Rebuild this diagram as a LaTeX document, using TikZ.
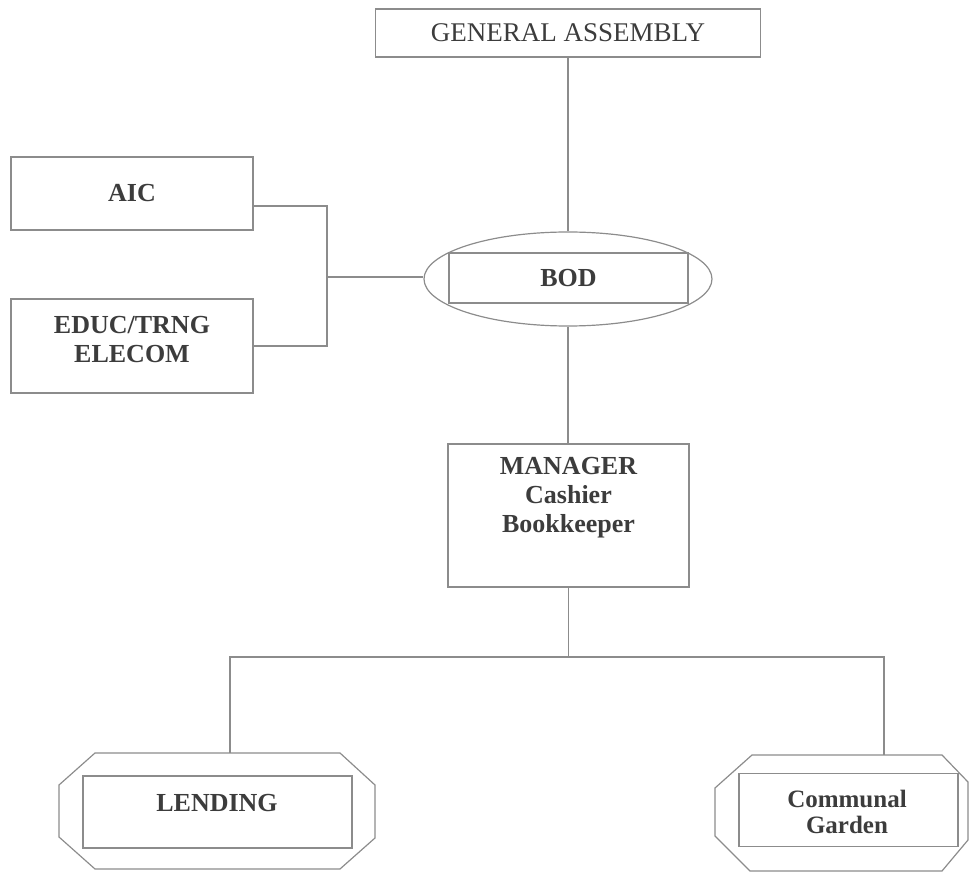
\documentclass[tikz,border=0pt]{standalone}
\usepackage{fontspec}
\setmainfont{Liberation Serif}
\usetikzlibrary{shapes.geometric}
\definecolor{ln}{HTML}{8C8C8C}
\definecolor{tx}{HTML}{3C3C3C}
\begin{document}
\begin{tikzpicture}[x=1pt,y=-1pt,line width=1.2pt,
  box/.style={draw=ln,rectangle,inner sep=0pt,text=tx,font=\fontsize{26}{29}\selectfont\bfseries,align=center},
  lbl/.style={inner sep=0pt,text=tx,font=\fontsize{26}{29}\selectfont\bfseries,align=center},
  conn/.style={draw=ln,line width=1.1pt}]
\useasboundingbox (0,0) rectangle (970,874);
% General assembly
\node[box,minimum width=385,minimum height=48,font=\fontsize{27}{30}\selectfont] (ga) at (568,33) {GENERAL ASSEMBLY};
% BOD
\node[draw=ln,ellipse,minimum width=288,minimum height=94,inner sep=0pt] (bodE) at (568,279) {};
\node[box,minimum width=239,minimum height=50] (bod) at (568.5,278) {BOD};
% AIC and EDUC
\node[box,minimum width=242,minimum height=73] (aic) at (132,193.5) {AIC};
\node[box,minimum width=242,minimum height=94] (educ) at (132,346) {};
\node[lbl] (educT) at (132,340) {EDUC/TRNG\\ELECOM};
% Manager
\node[box,minimum width=241,minimum height=143] (mgr) at (568.5,515.5) {};
\node[lbl] (mgrT) at (568.5,498) {MANAGER\\Cashier\\Bookkeeper};
% Lending octagon
\draw[draw=ln] (95,753) -- (340,753) -- (375,785) -- (375,838) -- (340,869) -- (95,869) -- (59,837) -- (59,785) -- cycle;
\coordinate (lendTop) at (230,753);
\node[box,minimum width=269,minimum height=72] (lend) at (217.5,812) {};
\node[lbl] (lendT) at (217,803) {LENDING};
% Communal garden octagon
\draw[draw=ln] (752,755) -- (942,755) -- (968,782) -- (968,840) -- (942,871) -- (750,871) -- (715,836) -- (715,788) -- cycle;
\coordinate (gardTop) at (884,755);
\node[box,minimum width=219,minimum height=73] (gard) at (848.5,810) {};
\node[lbl,font=\fontsize{25}{26}\selectfont\bfseries] (gardT) at (847,812) {Communal\\Garden};
% connectors
\coordinate (bus) at (569,657);
\coordinate (jx) at (327,277);
\draw[conn] (ga.south) -- (ga.south |- bodE.north);
\draw[conn] (bodE.south) -- (bodE.south |- mgr.north);
\draw[conn] ([yshift=-12.5pt]aic.east) -| (jx) |- (educ.east);
\draw[conn] (jx) -- (jx -| bodE.west);
\draw[conn] (mgr.south) -- (mgr.south |- bus);
\draw[conn] (lendTop) -- (lendTop |- bus) -- (gardTop |- bus) -- (gardTop);
\end{tikzpicture}
\end{document}
